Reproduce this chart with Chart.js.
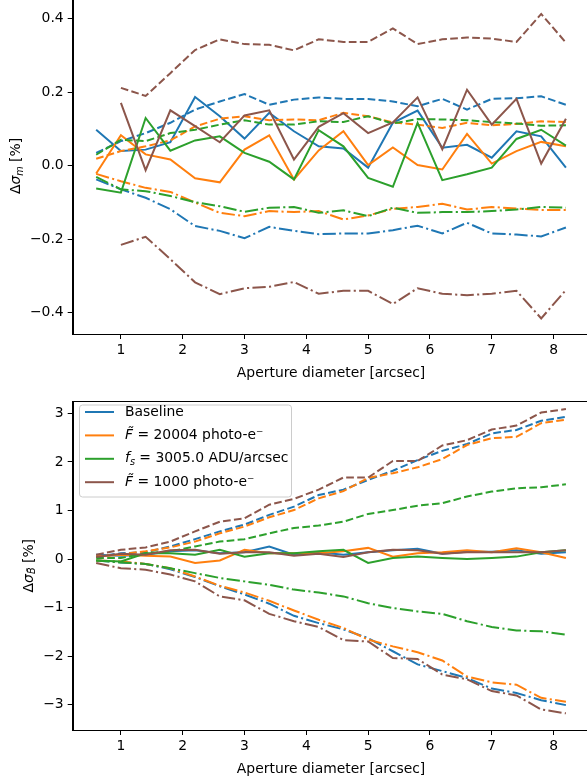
<!DOCTYPE html>
<html>
<head>
<meta charset="utf-8">
<script src="https://cdn.jsdelivr.net/npm/chart.js@4.4.1/dist/chart.umd.min.js"></script>
<style>
  html, body { margin: 0; padding: 0; background: #fff; overflow: hidden; width: 587px; height: 777px; }
  canvas { position: absolute; left: 0; }
  #top { top: -40px; }
  #bot { top: 385px; }
</style>
</head>
<body>
<canvas id="top" width="600" height="426" style="width:600px;height:426px"></canvas>
<canvas id="bot" width="600" height="397" style="width:600px;height:397px"></canvas>
<script>
// aperture diameters (arcsec)
const apertures = [0.6, 1.0, 1.4, 1.8, 2.2, 2.6, 3.0, 3.4, 3.8, 4.2, 4.6, 5.0, 5.4, 5.8, 6.2, 6.6, 7.0, 7.4, 7.8, 8.2];
const xTicks = [1, 2, 3, 4, 5, 6, 7, 8];
const yTicksTop = [-0.4, -0.2, 0.0, 0.2, 0.4];
const yTicksBot = [-3, -2, -1, 0, 1, 2, 3];

// top panel: delta sigma_m [%]  (solid, dashed = hi, dashdot = lo)
const mBase    = [0.098, 0.040, 0.044, 0.064, 0.187, 0.135, 0.074, 0.144, 0.094, 0.053, 0.047, -0.005, 0.117, 0.150, 0.049, 0.057, 0.022, 0.094, 0.080, -0.005];
const mBaseHi  = [0.035, 0.067, 0.089, 0.117, 0.153, 0.175, 0.195, 0.166, 0.180, 0.186, 0.182, 0.182, 0.175, 0.162, 0.182, 0.153, 0.182, 0.184, 0.189, 0.166];
const mBaseLo  = [-0.037, -0.064, -0.087, -0.118, -0.164, -0.177, -0.197, -0.166, -0.177, -0.186, -0.184, -0.184, -0.175, -0.163, -0.184, -0.155, -0.184, -0.187, -0.192, -0.168];
const mF20k    = [-0.021, 0.083, 0.031, 0.017, -0.034, -0.045, 0.044, 0.083, -0.037, 0.042, 0.094, 0.002, 0.050, 0.002, -0.010, 0.087, 0.006, 0.040, 0.065, 0.053];
const mF20kHi  = [0.019, 0.040, 0.053, 0.069, 0.107, 0.128, 0.135, 0.124, 0.126, 0.124, 0.144, 0.135, 0.118, 0.112, 0.103, 0.117, 0.110, 0.114, 0.121, 0.119];
const mF20kLo  = [-0.022, -0.042, -0.060, -0.071, -0.100, -0.128, -0.137, -0.123, -0.126, -0.123, -0.146, -0.135, -0.117, -0.112, -0.103, -0.119, -0.112, -0.116, -0.120, -0.120];
const mFs      = [-0.062, -0.073, 0.130, 0.041, 0.069, 0.080, 0.035, 0.011, -0.037, 0.097, 0.053, -0.033, -0.057, 0.117, -0.039, -0.023, -0.005, 0.073, 0.098, 0.055];
const mFsHi    = [0.030, 0.071, 0.067, 0.089, 0.098, 0.112, 0.124, 0.112, 0.112, 0.121, 0.119, 0.135, 0.115, 0.127, 0.126, 0.124, 0.119, 0.115, 0.109, 0.110];
const mFsLo    = [-0.030, -0.064, -0.069, -0.082, -0.099, -0.110, -0.125, -0.114, -0.112, -0.128, -0.121, -0.137, -0.114, -0.128, -0.126, -0.126, -0.123, -0.119, -0.112, -0.114];
const mF1k     = [null, 0.171, -0.012, 0.151, 0.108, 0.064, 0.137, 0.151, 0.017, 0.106, 0.143, 0.089, 0.118, 0.186, 0.045, 0.207, 0.112, 0.182, 0.006, 0.128];
const mF1kHi   = [null, 0.212, 0.190, 0.252, 0.315, 0.344, 0.331, 0.329, 0.314, 0.344, 0.337, 0.337, 0.374, 0.331, 0.344, 0.349, 0.346, 0.337, 0.413, 0.335];
const mF1kLo   = [null, -0.215, -0.193, -0.254, -0.317, -0.349, -0.333, -0.329, -0.316, -0.348, -0.340, -0.340, -0.376, -0.333, -0.348, -0.352, -0.348, -0.340, -0.415, -0.338];

// bottom panel: delta sigma_B [%]
const bBase    = [0.09, 0.07, 0.09, 0.16, 0.18, 0.12, 0.14, 0.26, 0.09, 0.14, 0.09, 0.14, 0.18, 0.21, 0.11, 0.15, 0.15, 0.18, 0.11, 0.14];
const bBaseHi  = [0.05, 0.12, 0.14, 0.26, 0.41, 0.57, 0.71, 0.91, 1.08, 1.32, 1.43, 1.63, 1.82, 2.04, 2.23, 2.37, 2.59, 2.66, 2.85, 2.93];
const bBaseLo  = [-0.03, -0.07, -0.10, -0.21, -0.37, -0.56, -0.73, -0.92, -1.17, -1.32, -1.45, -1.63, -1.90, -2.17, -2.31, -2.45, -2.67, -2.76, -2.91, -3.01];
const bF20k    = [0.05, 0.09, 0.07, 0.05, -0.08, -0.03, 0.19, 0.12, 0.12, 0.12, 0.16, 0.23, 0.05, 0.12, 0.14, 0.18, 0.14, 0.22, 0.14, 0.02];
const bF20kHi  = [0.05, 0.10, 0.16, 0.24, 0.36, 0.53, 0.67, 0.86, 1.01, 1.25, 1.40, 1.67, 1.77, 1.89, 2.06, 2.35, 2.49, 2.52, 2.80, 2.87];
const bF20kLo  = [-0.03, -0.05, -0.10, -0.19, -0.36, -0.55, -0.69, -0.86, -1.06, -1.25, -1.42, -1.66, -1.80, -1.92, -2.09, -2.42, -2.54, -2.59, -2.86, -2.94];
const bFs      = [-0.03, -0.05, 0.12, 0.12, 0.09, 0.19, 0.05, 0.12, 0.12, 0.16, 0.19, -0.08, 0.02, 0.05, 0.02, 0.00, 0.02, 0.05, 0.14, 0.18];
const bFsHi    = [0.02, 0.02, 0.12, 0.16, 0.26, 0.36, 0.41, 0.53, 0.64, 0.69, 0.77, 0.93, 1.01, 1.10, 1.15, 1.29, 1.39, 1.46, 1.48, 1.54];
const bFsLo    = [-0.03, -0.07, -0.10, -0.19, -0.29, -0.39, -0.46, -0.53, -0.63, -0.69, -0.77, -0.91, -1.01, -1.08, -1.13, -1.28, -1.40, -1.47, -1.49, -1.56];
const bF1k     = [0.04, 0.11, 0.09, 0.18, 0.19, 0.11, 0.14, 0.14, 0.07, 0.11, 0.04, 0.14, 0.19, 0.18, 0.11, 0.14, 0.14, 0.14, 0.14, 0.18];
const bF1kHi   = [0.09, 0.19, 0.24, 0.36, 0.57, 0.77, 0.84, 1.12, 1.24, 1.43, 1.68, 1.68, 2.02, 2.02, 2.34, 2.45, 2.67, 2.75, 3.02, 3.09];
const bF1kLo   = [-0.08, -0.19, -0.22, -0.32, -0.46, -0.77, -0.85, -1.13, -1.28, -1.40, -1.67, -1.70, -2.04, -2.06, -2.38, -2.48, -2.72, -2.81, -3.10, -3.18];

const colors = ['#1f77b4', '#ff7f0e', '#2ca02c', '#8c564b'];
const DASHED = [7.7, 3.3];
const DASHDOT = [13.3, 3.3, 2.1, 3.3];
const FONT = '"DejaVu Sans", sans-serif';
const FS = 13.9;

// legend texts: [text, style] pieces, style: '' | 'i' | 'isub'
const legendLabels = [
  [['Baseline', '']],
  [['F\u0303', 'i'], [' = 20004 photo-e\u207B', '']],
  [['f', 'i'], ['s', 'isub'], [' = 3005.0 ADU/arcsec', '']],
  [['F\u0303', 'i'], [' = 1000 photo-e\u207B', '']]
];

function pts(vals) {
  const out = [];
  vals.forEach((v, i) => { if (v !== null) out.push({x: apertures[i], y: v}); });
  return out;
}

function makeSets(groups) {
  const sets = [];
  groups.forEach((g, ci) => {
    const styles = [[], DASHED, DASHDOT];
    g.forEach((vals, si) => {
      sets.push({
        data: pts(vals),
        borderColor: colors[ci],
        borderWidth: 2,
        borderDash: styles[si],
        pointRadius: 0,
        fill: false,
        tension: 0
      });
    });
  });
  // matplotlib draws later lines on top, chart.js the opposite
  return sets.reverse();
}

function pieceFont(style, size) {
  const sub = style.indexOf('sub') >= 0;
  const it = style.indexOf('i') === 0;
  return (it ? 'italic ' : '') + (sub ? size * 0.7 : size) + 'px ' + FONT;
}

function richWidth(ctx, parts, size) {
  let w = 0;
  parts.forEach(p => { ctx.font = pieceFont(p[1], size); w += ctx.measureText(p[0]).width; });
  return w;
}

function richText(ctx, parts, x, y, size) {
  let cx = x;
  ctx.textBaseline = 'middle';
  ctx.textAlign = 'left';
  parts.forEach(p => {
    ctx.font = pieceFont(p[1], size);
    const dy = p[1].indexOf('sub') >= 0 ? size * 0.28 : 0;
    ctx.fillText(p[0], cx, y + dy);
    cx += ctx.measureText(p[0]).width;
  });
}

// draws the axes box (top / right spines) and the rotated y title
function framePlugin(yTitle, tx, ty) {
  return {
    id: 'frame',
    afterDraw(chart) {
      const ctx = chart.ctx;
      const a = chart.chartArea;
      ctx.save();
      ctx.strokeStyle = '#000';
      ctx.lineWidth = 1;
      ctx.strokeRect(Math.round(a.left) + 0.5, Math.round(a.top) + 0.5, Math.round(a.right - a.left), Math.round(a.bottom - a.top));
      ctx.fillStyle = '#000';
      ctx.translate(tx, ty);
      ctx.rotate(-Math.PI / 2);
      const w = richWidth(ctx, yTitle, FS);
      richText(ctx, yTitle, -w / 2, 0, FS);
      ctx.restore();
    }
  };
}

const legendPlugin = {
  id: 'boxLegend',
  afterDraw(chart) {
    const ctx = chart.ctx;
    const bx = 79.5, by = 20, bw = 212, bh = 92;
    ctx.save();
    ctx.fillStyle = 'rgba(255,255,255,0.8)';
    ctx.strokeStyle = '#cccccc';
    ctx.lineWidth = 1;
    ctx.beginPath();
    ctx.roundRect(bx, by, bw, bh, 3);
    ctx.fill();
    ctx.stroke();
    legendLabels.forEach((parts, i) => {
      const y = 27 + i * 23.4;
      ctx.strokeStyle = colors[i];
      ctx.lineWidth = 2;
      ctx.beginPath();
      ctx.moveTo(85, y);
      ctx.lineTo(114, y);
      ctx.stroke();
      ctx.fillStyle = '#000';
      richText(ctx, parts, 125, y, FS);
    });
    ctx.restore();
  }
};

function fmt(v, digits) {
  const s = digits ? Math.abs(v).toFixed(digits) : String(Math.abs(v));
  return (v < 0 ? '\u2212' : '') + s;
}

function makeOptions(yMin, yMax, yTicks, digits, padTop, xHeight) {
  const grid = {display: true, drawOnChartArea: false, drawTicks: true, tickLength: 5, color: '#000', tickColor: '#000', tickWidth: 1};
  return {
    responsive: false,
    animation: false,
    layout: {padding: {left: 0, right: 10.6, top: padTop, bottom: 0}},
    plugins: {legend: {display: false}, tooltip: {enabled: false}},
    scales: {
      x: {
        type: 'linear', min: 0.22, max: 8.58,
        grid: grid,
        border: {display: true, color: '#000', width: 1},
        ticks: {color: '#000', font: {family: FONT, size: FS}, padding: 3, maxRotation: 0, callback: v => String(v)},
        afterBuildTicks: s => { s.ticks = xTicks.map(v => ({value: v})); },
        afterFit: s => { s.height = xHeight; },
        title: {display: true, text: 'Aperture diameter [arcsec]', color: '#000', font: {family: FONT, size: FS}, padding: {top: 4, bottom: 4}}
      },
      y: {
        type: 'linear', min: yMin, max: yMax,
        grid: grid,
        border: {display: true, color: '#000', width: 1},
        ticks: {color: '#000', font: {family: FONT, size: FS}, padding: 4, callback: v => fmt(v, digits)},
        afterBuildTicks: s => { s.ticks = yTicks.map(v => ({value: v})); },
        afterFit: s => { s.width = 72.7; }
      }
    }
  };
}

new Chart(document.getElementById('top'), {
  type: 'line',
  data: {datasets: makeSets([
    [mBase, mBaseHi, mBaseLo],
    [mF20k, mF20kHi, mF20kLo],
    [mFs, mFsHi, mFsLo],
    [mF1k, mF1kHi, mF1kLo]
  ])},
  options: makeOptions(-0.4575, 0.4575, yTicksTop, 1, 37.6, 52),
  plugins: [framePlugin([['\u0394', ''], ['\u03C3', 'i'], ['m', 'isub'], [' [%]', '']], 16.7, 206)]
});

new Chart(document.getElementById('bot'), {
  type: 'line',
  data: {datasets: makeSets([
    [bBase, bBaseHi, bBaseLo],
    [bF20k, bF20kHi, bF20kLo],
    [bFs, bFsHi, bFsLo],
    [bF1k, bF1kHi, bF1kLo]
  ])},
  options: makeOptions(-3.523, 3.257, yTicksBot, 0, 16, 52),
  plugins: [framePlugin([['\u0394', ''], ['\u03C3', 'i'], ['B\u0303', 'isub'], [' [%]', '']], 29, 180.7), legendPlugin]
});
</script>
</body>
</html>
